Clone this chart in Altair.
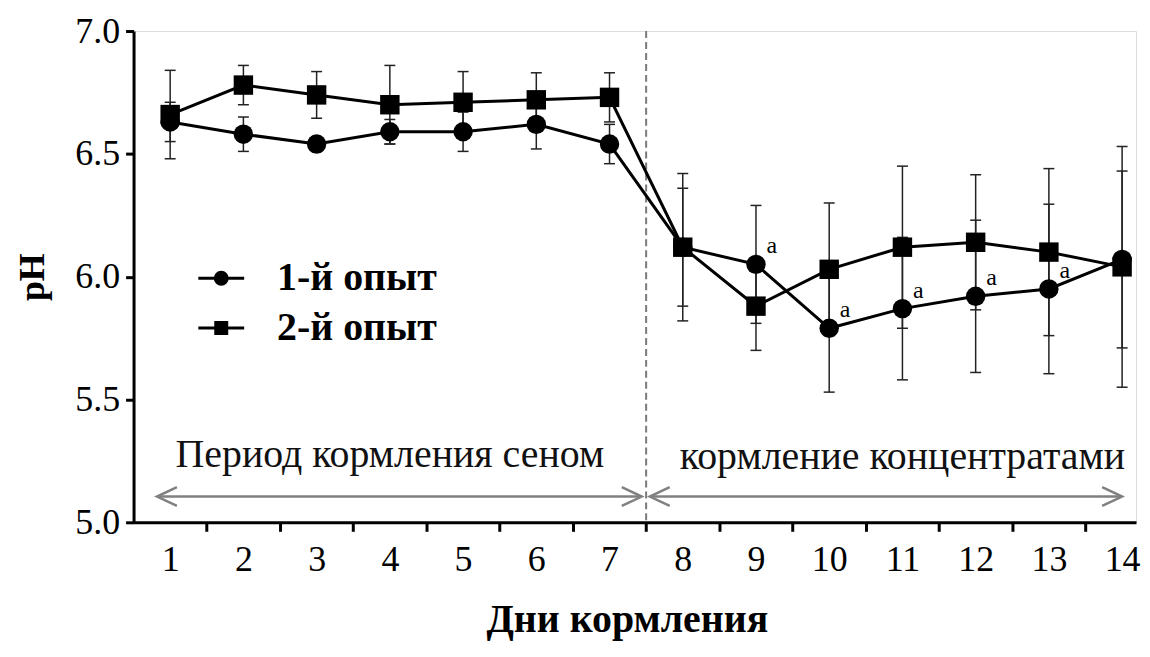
import altair as alt
import pandas as pd

# ---------------- data ----------------
days = list(range(1, 15))
series_names = ["1-й опыт", "2-й опыт"]
ph_exp1 = [6.63, 6.58, 6.54, 6.59, 6.59, 6.62, 6.54, 6.12, 6.05, 5.79, 5.87, 5.92, 5.95, 6.07]
ph_exp2 = [6.66, 6.78, 6.74, 6.70, 6.71, 6.72, 6.73, 6.12, 5.88, 6.03, 6.12, 6.14, 6.10, 6.04]
sd_exp1 = [0.08, 0.07, 0.03, 0.05, 0.08, 0.10, 0.08, 0.24, 0.24, 0.26, 0.29, 0.31, 0.345, 0.36]
sd_exp2 = [0.18, 0.08, 0.095, 0.16, 0.125, 0.11, 0.10, 0.30, 0.18, 0.27, 0.33, 0.275, 0.34, 0.49]

sig_days = [9, 10, 11, 12, 13]
sig_letters = ["a", "a", "a", "a", "a"]

period_labels = ["Период кормления сеном", "кормление концентратами"]
period_x = [4.0, 11.0]
period_y = [5.225, 5.215]

arrow_from = [0.82, 7.55]
arrow_to = [7.44, 14.0]
arrow_y = [5.105, 5.105]

divider_x = [7.5]

y_ticks = [5.0, 5.5, 6.0, 6.5, 7.0]
x_domain = [0.5, 14.19]
y_domain = [5.0, 7.0]

# ---------------- tables ----------------
rows = []
for name, ph, sd in [(series_names[0], ph_exp1, sd_exp1), (series_names[1], ph_exp2, sd_exp2)]:
    for d, v, s in zip(days, ph, sd):
        rows.append({"day": d, "series": name, "ph": v, "lo": v - s, "hi": v + s})
df = pd.DataFrame(rows)

sig_df = pd.DataFrame({
    "day": sig_days,
    "letter": sig_letters,
    "ph": [ph_exp1[d - 1] for d in sig_days],
})
period_df = pd.DataFrame({"x": period_x, "y": period_y, "label": period_labels})
arrow_df = pd.DataFrame({"x1": arrow_from, "x2": arrow_to, "y": arrow_y})
div_df = pd.DataFrame({"x": divider_x})

# ---------------- layout ----------------
W, H = 1006, 493
step = W / (x_domain[1] - x_domain[0])
SERIF = "Liberation Serif"

xs = alt.Scale(domain=x_domain, nice=False, zero=False)
ys = alt.Scale(domain=y_domain, nice=False, zero=False)

x_axis = alt.Axis(
    values=days, tickOffset=step / 2, labelOffset=-step / 2,
    tickSize=9, tickWidth=3, tickColor="black",
    domainWidth=3, domainColor="black",
    labelFont=SERIF, labelFontSize=36, labelColor="black", labelPadding=11,
    labelFlush=False, labelOverlap=False, grid=False,
    titleFont=SERIF, titleFontSize=40, titleFontWeight="bold", titleColor="black",
    titleX=495, titleY=110, titleBaseline="alphabetic", titleAlign="center",
)
y_axis = alt.Axis(
    values=y_ticks, format=".1f",
    tickSize=8, tickWidth=3, tickColor="black",
    domainWidth=3, domainColor="black",
    labelFont=SERIF, labelFontSize=36, labelColor="black", labelPadding=6,
    grid=False,
    titleFont=SERIF, titleFontSize=36, titleFontWeight="bold", titleColor="black",
    titleX=-90, titleY=H / 2, titleBaseline="alphabetic", titleAlign="center", titleAngle=270,
)


def X(field):
    return alt.X(field, type="quantitative", scale=xs, axis=x_axis, title="Дни кормления")


def Y(field):
    return alt.Y(field, type="quantitative", scale=ys, axis=y_axis, title="pH")


divider = alt.Chart(div_df).mark_rule(color="#7a7a7a", strokeWidth=2, strokeDash=[7, 4]).encode(x=X("x"))

shafts = alt.Chart(arrow_df).mark_rule(color="#808080", strokeWidth=2.5).encode(
    x=X("x1"), x2="x2", y=Y("y"))
left_heads = alt.Chart(arrow_df).mark_point(
    shape="M2,-0.95L0,0L2,0.95", filled=False, color="#808080", strokeWidth=2.5, size=400, opacity=1
).encode(x=X("x1"), y=Y("y"))
right_heads = alt.Chart(arrow_df).mark_point(
    shape="M-2,-0.95L0,0L-2,0.95", filled=False, color="#808080", strokeWidth=2.5, size=400, opacity=1
).encode(x=X("x2"), y=Y("y"))

err = alt.Chart(df).mark_rule(color="#222222", strokeWidth=1.5).encode(
    x=X("day"), y=Y("lo"), y2="hi")
caps = alt.Chart(df).transform_fold(["lo", "hi"], as_=["k", "v"]).mark_tick(
    orient="horizontal", size=11, thickness=1.5, color="#222222", opacity=1
).encode(x=X("day"), y=Y("v:Q"))

lines = alt.Chart(df).mark_line(color="black", strokeWidth=3).encode(
    x=X("day"), y=Y("ph"), detail="series:N")

points = alt.Chart(df).mark_point(filled=True, color="black", size=380, opacity=1).encode(
    x=X("day"), y=Y("ph"),
    shape=alt.Shape("series:N", scale=alt.Scale(domain=series_names, range=["circle", "square"]), legend=None),
)


def ring(r):
    return f"M{r},0A{r},{r},0,1,1,-{r},0A{r},{r},0,1,1,{r},0Z"


def box(h):
    return f"M-{h},-{h}H{h}V{h}H-{h}Z"


legend_paths = [
    "M-2.3,0H2.3" + ring(0.6) + ring(0.35) + ring(0.1),
    "M-2.3,0H2.3" + box(0.55) + box(0.28) + box(0.05),
]
legend_layer = alt.Chart(df).transform_filter("datum.day < 0").mark_point(
    filled=False, color="black", strokeWidth=3, size=400, opacity=1
).encode(
    x=X("day"), y=Y("ph"),
    shape=alt.Shape(
        "series:N",
        scale=alt.Scale(domain=series_names, range=legend_paths),
        legend=alt.Legend(
            orient="none", legendX=68, legendY=228, title=None,
            labelFont=SERIF, labelFontSize=40, labelFontWeight="bold", labelColor="black",
            labelLimit=500,
            symbolSize=400, symbolStrokeWidth=3, symbolStrokeColor="black",
            labelOffset=36, rowPadding=10, padding=0,
        ),
    ),
)

sig = alt.Chart(sig_df).mark_text(font=SERIF, fontSize=24, color="black", dx=16, dy=-18).encode(
    x=X("day"), y=Y("ph"), text="letter:N")

periods = alt.Chart(period_df).mark_text(
    font=SERIF, fontSize=40, color="#111111", align="center", baseline="alphabetic"
).encode(x=X("x"), y=Y("y"), text="label:N")

chart = alt.layer(
    divider, shafts, left_heads, right_heads, err, caps, lines, points, legend_layer, sig, periods
).resolve_scale(shape="independent").properties(
    width=W, height=H,
    autosize=alt.AutoSizeParams(type="none"),
    padding={"left": 126, "top": 22, "right": 6, "bottom": 121},
).configure_view(stroke=None).configure(background="white")

chart.save("out.html", embed_options={"renderer": "svg", "actions": False})
